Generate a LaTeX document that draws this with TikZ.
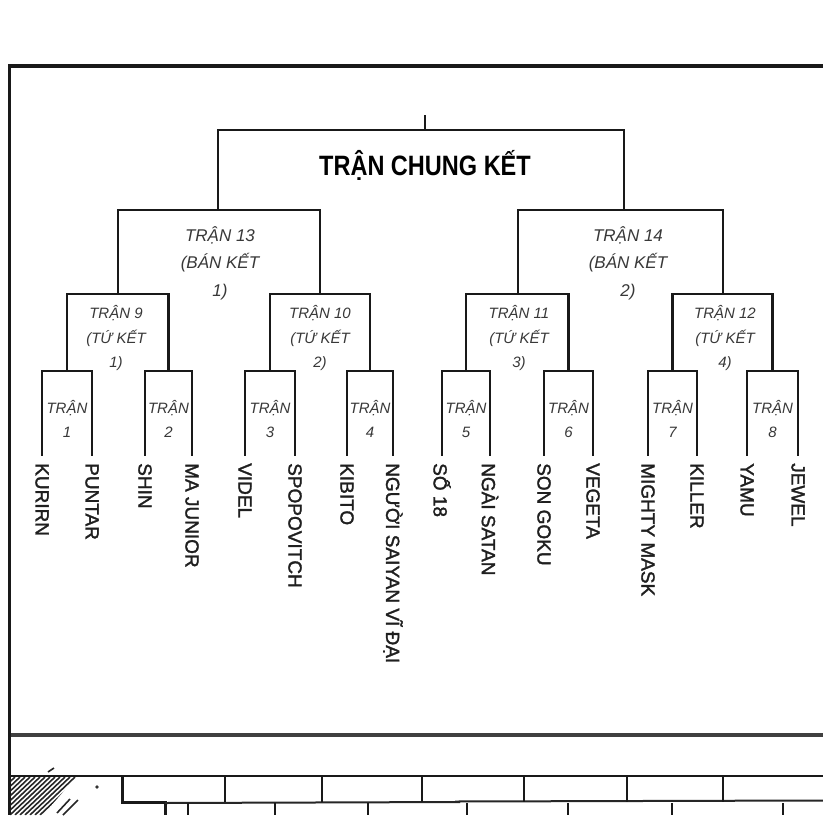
\documentclass[tikz,border=0pt]{standalone}
\usepackage{fontspec}
\setmainfont{Liberation Sans}
\newfontfamily\titlefont{Liberation Sans}[FakeStretch=0.84]
\newfontfamily\namefont{Liberation Sans}[FakeBold=1.6]
\begin{document}
\begin{tikzpicture}[x=1pt,y=-1pt,
  br/.style={line width=2.8pt, line cap=rect, line join=miter, draw=black!90},
  nm/.style={rotate=-90, anchor=west, inner xsep=8pt, inner ysep=0pt, font=\namefont\fontsize{19}{19}\selectfont, text=black!88},
  sfl/.style={align=center, font=\fontsize{17}{27.5}\selectfont\itshape, text=black!78},
  qfl/.style={align=center, font=\fontsize{15}{24.5}\selectfont\itshape, text=black!78},
  rol/.style={align=center, font=\fontsize{15}{24}\selectfont\itshape, text=black!78},
  framestyle/.style={line width=3.5pt, draw=black!90, line join=miter},
  brick/.style={line width=2.2pt, draw=black!90}
]
\fill[white] (0,0) rectangle (823,815);
\useasboundingbox (0,0) rectangle (823,815);

% leaves (player names)
\foreach \i/\x/\t in {1/42/KURIRN, 2/92/PUNTAR, 3/145/SHIN, 4/192/MA JUNIOR,
  5/245/VIDEL, 6/295/SPOPOVITCH, 7/347/KIBITO, 8/393/NGƯỜI SAIYAN VĨ ĐẠI,
  9/442/SỐ 18, 10/490/NGÀI SATAN, 11/544/SON GOKU, 12/593/VEGETA,
  13/648/MIGHTY MASK, 14/697/KILLER, 15/747/YAMU, 16/798/JEWEL}
  \node[nm] (n\i) at (\x,455) {\t};

% junction coordinates
\coordinate (m1) at (67,371);
\coordinate (m2) at (168.5,371);
\coordinate (m3) at (270,371);
\coordinate (m4) at (370,371);
\coordinate (m5) at (466,371);
\coordinate (m6) at (568.5,371);
\coordinate (m7) at (672.5,371);
\coordinate (m8) at (772.5,371);
\coordinate (q9) at (118,294);
\coordinate (q10) at (320,294);
\coordinate (q11) at (518,294);
\coordinate (q12) at (723,294);
\coordinate (s13) at (218,210);
\coordinate (s14) at (624,210);
\coordinate (f) at (425,130);
\coordinate (ft) at (425,116);

% round 1 brackets
\draw[br] (n1.west) |- (m1) -| (n2.west);
\draw[br] (n3.west) |- (m2) -| (n4.west);
\draw[br] (n5.west) |- (m3) -| (n6.west);
\draw[br] (n7.west) |- (m4) -| (n8.west);
\draw[br] (n9.west) |- (m5) -| (n10.west);
\draw[br] (n11.west) |- (m6) -| (n12.west);
\draw[br] (n13.west) |- (m7) -| (n14.west);
\draw[br] (n15.west) |- (m8) -| (n16.west);
% quarter finals
\draw[br] (m1) |- (q9) -| (m2);
\draw[br] (m3) |- (q10) -| (m4);
\draw[br] (m5) |- (q11) -| (m6);
\draw[br] (m7) |- (q12) -| (m8);
% semi finals
\draw[br] (q9) |- (s13) -| (q10);
\draw[br] (q11) |- (s14) -| (q12);
% final
\draw[br] (s13) |- (f) -| (s14);
\draw[br] (f) -- (ft);

% labels
\node[font=\titlefont\bfseries\fontsize{28}{28}\selectfont, text=black] (title) at (425,165) {TRẬN CHUNG KẾT};
\node[sfl] (l13) at (220,263) {TRẬN 13\\(BÁN KẾT\\1)};
\node[sfl] (l14) at (628,263) {TRẬN 14\\(BÁN KẾT\\2)};
\node[qfl] (l9) at (116,338) {TRẬN 9\\(TỨ KẾT\\1)};
\node[qfl] (l10) at (320,338) {TRẬN 10\\(TỨ KẾT\\2)};
\node[qfl] (l11) at (519,338) {TRẬN 11\\(TỨ KẾT\\3)};
\node[qfl] (l12) at (725,338) {TRẬN 12\\(TỨ KẾT\\4)};
\node[rol] (t1) at (67,419) {TRẬN\\1};
\node[rol] (t2) at (168.5,419) {TRẬN\\2};
\node[rol] (t3) at (270,419) {TRẬN\\3};
\node[rol] (t4) at (370,419) {TRẬN\\4};
\node[rol] (t5) at (466,419) {TRẬN\\5};
\node[rol] (t6) at (568.5,419) {TRẬN\\6};
\node[rol] (t7) at (672.5,419) {TRẬN\\7};
\node[rol] (t8) at (772.5,419) {TRẬN\\8};

% bottom strip
\draw[line width=4pt, draw=black!75] (9.5,735) -- (823,735);
\draw[line width=2.5pt, draw=black!90] (9.5,776) -- (823,776);
\draw[line width=3pt, draw=black!90, line join=miter] (122,776) -- (122,802) -- (165,802) -- (165,815);
\draw[line width=2pt, draw=black!85] (165,803) -- (460,802) (455,801.5) -- (823,800.5);
\foreach \x in {225,322,422,524,627,723}
  \draw[brick] (\x,776) -- (\x,802);
\foreach \x in {188,275,368,467,568,672,783}
  \draw[brick] (\x,803) -- (\x,815);
\begin{scope}
  \clip (10,777) -- (76,777) -- (43,815) -- (10,815) -- cycle;
  \foreach \x in {-30,-25,...,60}
    \draw[line width=1.6pt, draw=black!85] (\x,815) -- (\x+40,777);
\end{scope}
\draw[line width=1.6pt, draw=black!85] (57,813) -- (70,799) (63,815) -- (78,800) (48,772) -- (54,768);
\fill[black!80] (97,787) circle (1.8);

% panel frame
\draw[framestyle] (823,66) -- (9.5,66) -- (9.5,815);
\end{tikzpicture}
\end{document}
